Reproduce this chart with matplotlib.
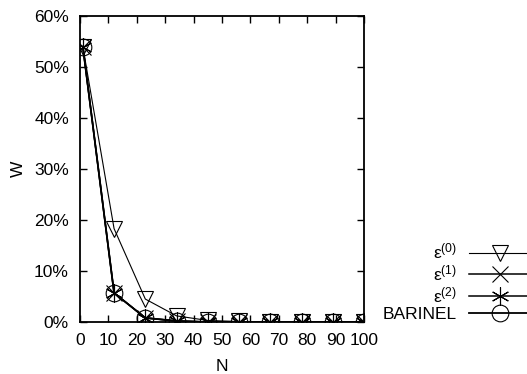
import matplotlib
matplotlib.use("Agg")
import matplotlib.pyplot as plt

plt.rcParams['font.family'] = ['Liberation Sans', 'DejaVu Sans']
plt.rcParams['mathtext.fontset'] = 'custom'
plt.rcParams['mathtext.rm'] = 'Liberation Sans'
plt.rcParams['mathtext.it'] = 'Liberation Sans'

N = [1, 12, 23, 34, 45, 56, 67, 78, 89, 100]
eps0 = [54.0, 18.3, 4.5, 1.2, 0.3, 0.1, 0.0, 0.0, 0.0, 0.0]
eps1 = [54.0, 5.7, 0.8, 0.2, 0.0, 0.0, 0.0, 0.0, 0.0, 0.0]
eps2 = [54.0, 5.7, 0.8, 0.2, 0.0, 0.0, 0.0, 0.0, 0.0, 0.0]
barinel = [54.0, 5.7, 0.8, 0.2, 0.0, 0.0, 0.0, 0.0, 0.0, 0.0]
labels = ['ε$^{\\mathrm{(0)}}$', 'ε$^{\\mathrm{(1)}}$', 'ε$^{\\mathrm{(2)}}$', 'BARINEL']
xticks = [0, 10, 20, 30, 40, 50, 60, 70, 80, 90, 100]
yticks = [0, 10, 20, 30, 40, 50, 60]

FS = 12.5

fig = plt.figure(figsize=(5.27, 3.74), dpi=100)
ax = fig.add_axes([80/527, 1-322/374, 284/527, 306/374])

ax.plot(N, eps0, color='black', lw=0.8, marker='v', ms=11, mfc='none', mec='black', mew=0.8, label=labels[0])
ax.plot(N, eps1, color='black', lw=1.1, marker='x', ms=12, mec='black', mew=0.8, label=labels[1])
ax.plot(N, eps2, color='black', lw=1.1, marker=(6, 2, 0), ms=13, mec='black', mew=0.8, label=labels[2])
ax.plot(N, barinel, color='black', lw=1.3, marker='o', ms=12, mfc='none', mec='black', mew=0.8, label=labels[3])

ax.set_xlim(0, 100)
ax.set_ylim(0, 60)
ax.set_xticks(xticks)
ax.set_yticks(yticks)
ax.set_yticklabels([f'{v}%' for v in yticks])
ax.tick_params(direction='in', length=5, width=1, top=True, right=True, labelsize=FS, pad=8)
for s in ax.spines.values():
    s.set_linewidth(1.3)
ax.set_xlabel('N', fontsize=FS, labelpad=8)
ax.set_ylabel('W', fontsize=FS, labelpad=6)

leg = ax.legend(loc='lower right', bbox_to_anchor=(530/527, 1-322/374), bbox_transform=fig.transFigure,
                markerfirst=False, frameon=False, handlelength=3.5, fontsize=FS,
                labelspacing=0.1, handletextpad=0.7, borderaxespad=0, borderpad=0)
leg._legend_box._children[-1]._children[0].align = 'right'

fig.savefig('out.png', dpi=100)
